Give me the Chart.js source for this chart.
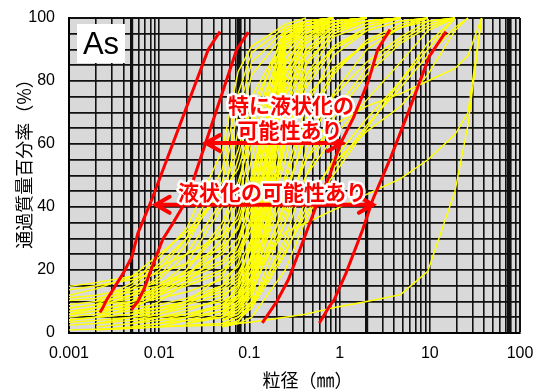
<!DOCTYPE html>
<html>
<head>
<meta charset="utf-8">
<script src="https://cdn.jsdelivr.net/npm/chart.js@4/dist/chart.umd.min.js"></script>
<style>
  html, body { margin: 0; padding: 0; background: #ffffff; }
  canvas { display: block; }
</style>
</head>
<body>
<canvas id="chart" width="536" height="389"></canvas>
<script>
const _ = null;

// Sieve / hydrometer particle sizes (mm) for every sample row below
const sieveSizes = [0.001, 0.002, 0.005, 0.01, 0.02, 0.05, 0.075, 0.106, 0.25, 0.425, 0.85, 2, 4.75, 9.5, 19, 26.5, 37.5];

// Percent passing of each As sample at the sizes above (null = not measured)
const samplePassing = [
  [_, 10, 16, 24, 33, 58, 83, 91, 98, 100],
  [_, 8, 14, 20, 30, 52, 76, 89, 97, 99, 100],
  [_, _, 12, 18, 28, 48, 70, 86, 96, 99, 100],
  [6, 8, 12, 17, 25, 42, 64, 82, 95, 98, 100],
  [_, 9, 15, 22, 30, 45, 58, 75, 94, 98, 99, 100],
  [_, _, 10, 15, 22, 40, 55, 72, 93, 97, 99, 100],
  [12, 14, 18, 25, 32, 45, 52, 66, 92, 97, 99, 100],
  [_, 7, 10, 14, 20, 35, 48, 62, 90, 96, 99, 100],
  [14.8, 16, 18, 21, 25, 31, 36, 50, 93, 98, 100],
  [13.7, 15, 17, 19, 22, 27, 33, 46, 91, 97, 99, 100],
  [11.2, 12, 14, 16, 19, 25, 30, 42, 90, 97, 99, 100],
  [10.3, 11, 13, 15, 18, 23, 28, 40, 88, 96, 99, 100],
  [9, 10, 12, 14, 17, 22, 26, 36, 86, 95, 98, 100],
  [7.9, 9, 10, 12, 15, 19, 24, 33, 85, 95, 99, 100],
  [6.9, 8, 9, 11, 13, 17, 21, 30, 83, 94, 98, 100],
  [5.8, 7, 8, 9, 11, 15, 19, 27, 80, 93, 98, 100],
  [5.1, 6, 7, 8, 10, 13, 17, 24, 78, 92, 97, 99, 100],
  [4.2, 5, 6, 7, 9, 12, 15, 22, 75, 90, 97, 99, 100],
  [3.4, 4, 5, 6, 8, 10, 13, 20, 72, 89, 96, 99, 100],
  [2.5, 3, 4, 5, 6, 8, 11, 17, 70, 88, 96, 99, 100],
  [8, 9, 11, 13, 16, 20, 25, 35, 80, 92, 98, 100],
  [4, 5, 6, 8, 10, 14, 18, 28, 76, 90, 97, 100],
  [1, 1.2, 1.5, 2, 2.5, 3, 3.5, 10, 60, 85, 95, 99, 100],
  [_, 1, 2, 3, 4, 5, 7, 14, 65, 86, 95, 99, 100],
  [_, 2, 3, 4, 5, 7, 9, 15, 60, 82, 94, 98, 100],
  [_, _, 6, 10, 16, 26, 34, 48, 94, 98, 100],
  [_, _, 8, 12, 18, 28, 38, 55, 95, 99, 100],
  [_, 5, 8, 12, 18, 30, 42, 60, 96, 99, 100],
  [_, 6, 9, 13, 20, 33, 45, 68, 97, 99, 100],
  [_, _, 4, 6, 9, 15, 22, 38, 92, 98, 100],
  [_, 3, 5, 7, 10, 18, 28, 45, 93, 99, 100],
  [_, _, _, 4, 6, 9, 12, 24, 82, 94, 99, 100],
  [_, _, 3, 5, 7, 11, 16, 30, 88, 96, 100],
  [_, _, _, _, _, 5, 8, 15, 50, 72, 88, 96, 99, 100],
  [_, _, _, _, _, 4, 6, 12, 42, 65, 82, 93, 98, 100],
  [_, _, _, _, 3, 5, 9, 18, 55, 78, 90, 97, 100],
  [_, _, _, _, _, 6, 12, 22, 60, 80, 91, 97, 100],
  [_, _, _, _, _, 3, 5, 9, 35, 58, 76, 90, 97, 100],
  [_, _, _, 2, 4, 7, 11, 20, 48, 68, 83, 92, 97, 99, 100],
  [_, _, _, _, _, 4, 7, 13, 38, 55, 70, 84, 93, 98, 100],
  [_, _, _, _, 3, 6, 10, 17, 45, 62, 75, 86, 94, 99, 100],
  [_, _, _, _, _, 2, 4, 8, 30, 50, 68, 82, 92, 97, 100],
  [_, _, 2, 3, 5, 9, 14, 25, 62, 75, 84, 92, 97, 100],
  [_, _, _, _, _, 8, 15, 30, 70, 82, 90, 96, 99, 100],
  [_, _, _, _, _, 2, 3, 5, 20, 36, 52, 66, 78, 88, 97, 100],
  [_, _, _, _, _, 3, 5, 8, 25, 40, 55, 68, 80, 90, 100],
  [_, _, _, _, _, 4, 6, 10, 28, 42, 54, 64, 72, 82, 96, 100],
  [_, 1, 1.5, 2, 2.2, 2.5, 3, 3.5, 5, 6, 8, 10, 12.2, 19.6, 45, 66, 100],
  [_, _, _, _, _, 3, 5, 9, 26, 38, 50, 65, 80, 92, 100],
  [_, _, _, _, _, 5, 8, 14, 35, 50, 62, 74, 86, 96, 100],
  [_, _, _, _, _, 8, 12, 18, 32, 35, 39, 44, 49, 55, 63, 70, 100],
  [_, _, _, _, _, 6, 10, 16, 40, 55, 66, 72, 76, 80, 84, 88, 100]
];

// Liquefaction grading limits [size mm, percent passing]
const limitCurve1 = [[0.0022, 6.5], [0.00236, 7.9], [0.00262, 10.6], [0.00324, 14.8], [0.0040, 19], [0.0050, 24.3], [0.0058, 31.7], [0.00826, 42.3], [0.035, 90], [0.0472, 95.7]];
const limitCurve2 = [[0.0049, 7.4], [0.0058, 10], [0.0068, 14], [0.0081, 20], [0.0109, 29.6], [0.0143, 35], [0.0202, 42.3], [0.0723, 90], [0.0973, 95.5]];
const limitCurve3 = [[0.139, 3.2], [0.201, 10], [0.270, 16.9], [0.380, 28], [0.432, 32.3], [0.557, 40.7], [0.783, 50.3], [1.01, 59.8], [1.42, 68.3], [2.08, 79.9], [2.36, 85.2], [2.64, 90], [3.62, 96.3]];
const limitCurve4 = [[0.596, 3.2], [0.769, 8.4], [0.873, 10.6], [1.178, 19], [1.80, 32.8], [2.33, 42.3], [3.72, 56], [5.93, 70.9], [9.86, 87.8], [15.1, 95.7]];

// Range arrows and their captions
const arrowLevels = [60.3, 40.7];
const arrowFrom = [0.0322, 0.0089];
const arrowTo = [1.09, 2.4];
const noteTexts = ['特に液状化の', '可能性あり', '液状化の可能性あり'];
const noteX = [0.289, 0.282, 0.18];
const noteY = [72.3, 64.5, 44.7];

// Axis labels
const xTickLabels = ['0.001', '0.01', '0.1', '1', '10', '100'];
const yTickLabels = ['0', '20', '40', '60', '80', '100'];
const heavyGridSizes = [0.005, 0.075, 2, 75];
const xTitle = '粒径（㎜）';
const yTitle = '通過質量百分率（%）';
const panelTag = 'As';

// Log grid: 1..9 x 10^n plus the heavy soil-class boundaries
const xGridValues = [];
for (let e = -3; e <= 1; e++) {
  for (let m = 1; m <= 9; m++) xGridValues.push(parseFloat((m * Math.pow(10, e)).toPrecision(3)));
}
xGridValues.push(0.075, 75, 100);
xGridValues.sort((a, b) => a - b);

const isDecade = v => Math.abs(Math.log10(v) - Math.round(Math.log10(v))) < 1e-9;
const isHeavy = v => heavyGridSizes.some(h => Math.abs(h - v) / h < 1e-6);

const sampleSets = samplePassing.map(row => ({
  data: row.map((p, i) => (p === null ? null : { x: sieveSizes[i], y: p })).filter(Boolean),
  borderColor: '#ffff00',
  borderWidth: 1.4,
  pointRadius: 0,
  tension: 0,
  fill: false,
  clip: 3,
  order: 2
}));

const limitSets = [limitCurve1, limitCurve2, limitCurve3, limitCurve4].map(curve => ({
  data: curve.map(([x, y]) => ({ x, y })),
  borderColor: '#ff0000',
  borderWidth: 3,
  pointRadius: 0,
  tension: 0,
  fill: false,
  order: 1
}));

const plotBackground = {
  id: 'plotBackground',
  beforeDraw(chart) {
    const { ctx, chartArea: a } = chart;
    ctx.save();
    ctx.fillStyle = '#d9d9d9';
    ctx.fillRect(a.left, a.top, a.right - a.left, a.bottom - a.top);
    ctx.restore();
  }
};

const annotations = {
  id: 'annotations',
  afterDatasetsDraw(chart) {
    const { ctx, scales: { x, y } } = chart;
    ctx.save();
    // double-headed range arrows
    ctx.strokeStyle = '#ff0000';
    ctx.lineWidth = 4;
    ctx.lineCap = 'round';
    ctx.lineJoin = 'miter';
    arrowLevels.forEach((lv, i) => {
      const py = y.getPixelForValue(lv);
      const x0 = x.getPixelForValue(arrowFrom[i]);
      const x1 = x.getPixelForValue(arrowTo[i]);
      ctx.beginPath();
      ctx.moveTo(x0 + 2, py); ctx.lineTo(x1 - 2, py);
      ctx.stroke();
      ctx.beginPath();
      ctx.moveTo(x0 + 15, py - 8); ctx.lineTo(x0 + 1, py); ctx.lineTo(x0 + 15, py + 8);
      ctx.stroke();
      ctx.beginPath();
      ctx.moveTo(x1 - 15, py - 8); ctx.lineTo(x1 - 1, py); ctx.lineTo(x1 - 15, py + 8);
      ctx.stroke();
    });
    // captions with white outline
    ctx.font = 'bold 21px "Noto Sans CJK JP"';
    ctx.textAlign = 'center';
    ctx.textBaseline = 'middle';
    ctx.lineJoin = 'round';
    noteTexts.forEach((t, i) => {
      const px = x.getPixelForValue(noteX[i]);
      const py = y.getPixelForValue(noteY[i]);
      ctx.strokeStyle = '#ffffff';
      ctx.lineWidth = 5;
      ctx.strokeText(t, px, py);
      ctx.fillStyle = '#ff0000';
      ctx.fillText(t, px, py);
    });
    // panel tag
    const a = chart.chartArea;
    ctx.fillStyle = '#ffffff';
    ctx.fillRect(a.left + 8, a.top + 6, 48, 39);
    ctx.fillStyle = '#000000';
    ctx.font = '31px "Liberation Sans"';
    ctx.fillText(panelTag, a.left + 32, a.top + 27);
    ctx.restore();
  }
};

const axisTitles = {
  id: 'axisTitles',
  afterDraw(chart) {
    const { ctx, chartArea: a } = chart;
    ctx.save();
    ctx.fillStyle = '#000000';
    ctx.font = '18px "Noto Sans CJK JP"';
    ctx.textAlign = 'center';
    ctx.textBaseline = 'middle';
    ctx.fillText(xTitle, (a.left + a.right) / 2 + 13, 380);
    ctx.translate(24, (a.top + a.bottom) / 2 - 16);
    ctx.rotate(-Math.PI / 2);
    ctx.fillText(yTitle, 0, 0);
    ctx.restore();
  }
};

new Chart(document.getElementById('chart'), {
  type: 'line',
  data: { datasets: [...limitSets, ...sampleSets] },
  options: {
    responsive: false,
    animation: false,
    events: [],
    layout: { padding: { top: 18, right: 16, left: 0, bottom: 0 } },
    plugins: { legend: { display: false }, tooltip: { enabled: false } },
    scales: {
      x: {
        type: 'logarithmic',
        min: 0.001,
        max: 100,
        afterBuildTicks: axis => { axis.ticks = xGridValues.map(v => ({ value: v })); },
        afterFit: axis => { axis.height = 56; axis.paddingLeft = 0; axis.paddingRight = 0; },
        ticks: {
          autoSkip: false,
          maxRotation: 0,
          minRotation: 0,
          padding: 11,
          color: '#000000',
          font: { family: '"Liberation Sans"', size: 16 },
          callback: v => (isDecade(v) ? xTickLabels[Math.round(Math.log10(v)) + 3] : '')
        },
        grid: {
          color: '#111111',
          drawTicks: false,
          lineWidth: c => (c.tick && isHeavy(c.tick.value) ? 3.2 : (c.tick && c.tick.value === 100 ? 2 : 1.6))
        },
        border: { display: true, color: '#000000', width: 2 }
      },
      y: {
        type: 'linear',
        min: 0,
        max: 100,
        afterFit: axis => { axis.width = 69; axis.paddingTop = 0; axis.paddingBottom = 0; },
        ticks: {
          stepSize: 5,
          autoSkip: false,
          padding: 14,
          color: '#000000',
          font: { family: '"Liberation Sans"', size: 16 },
          callback: v => (v % 20 === 0 ? yTickLabels[v / 20] : '')
        },
        grid: {
          color: '#111111',
          drawTicks: false,
          lineWidth: c => (c.tick && c.tick.value === 100 ? 2 : 1.8)
        },
        border: { display: true, color: '#000000', width: 2 }
      }
    }
  },
  plugins: [plotBackground, annotations, axisTitles]
});
</script>
</body>
</html>
